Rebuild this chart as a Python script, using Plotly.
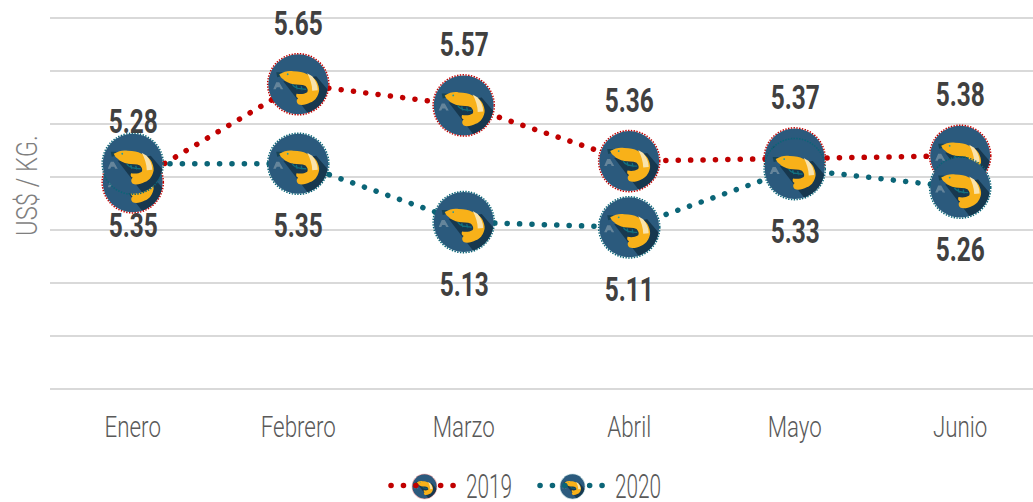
import base64
import plotly.graph_objects as go

months = ["Enero", "Febrero", "Marzo", "Abril", "Mayo", "Junio"]
values_2019 = [5.28, 5.65, 5.57, 5.36, 5.37, 5.38]
values_2020 = [5.35, 5.35, 5.13, 5.11, 5.33, 5.26]
RED = "#c00000"
TEAL = "#0b6577"
FONT = "Roboto"
positions = list(range(len(months)))
PX_X = 165.5
PX_Y = 265.0
TOP = 14
BOTTOM = 393
LEFT = 50


def icon(color):
    svg = f'''<svg xmlns="http://www.w3.org/2000/svg" viewBox="0 0 64 64" width="256" height="256">
<defs><clipPath id="c"><circle cx="32" cy="32" r="30"/></clipPath></defs>
<circle cx="32" cy="32" r="30" fill="#2b5a7d"/>
<g clip-path="url(#c)">
<path d="M17 29 L44 64 L72 64 L62 38 L50 24 Z" fill="#17384f"/>
<path d="M10 30 L13 30 L17 37 L14.5 37 L13.5 35 L10.5 35 L9.5 37 L7 37 Z" fill="#7f97a8" opacity="0.7"/>
<path d="M10 20 L16 20 L15 24 L11 25 Z" fill="#174458"/>
<path d="M13 22 C18 19 23 18 27 19 C33 19 37 20 40.3 21.7 C46 24 50 27 51.3 31 C53 35 53.5 38 52.3 41 C51 45 48.5 49 44 50.3 C40 52.5 35 53.5 32 52 C30 50.5 30 47 32 46 C30 45.5 29.5 43.5 30.3 41.5 C34 42 38 42 41 40 C42 38 41.5 36 39.3 33.7 C36 32 31 32.5 27 32 C23 31 19 29.5 17 27 C15 26 14 24 13 22 Z" fill="#f8b119"/>
<path d="M41 21 L46 24 C49.5 28 51.5 33 51.5 38 L46 38.5 C46 33 44 26.5 41 21 Z" fill="#f9e3ac"/>
<path d="M26 32 C28 36 33 37 40 37 M30 33 L31 37 M35 34 L36 38" stroke="#12707f" stroke-width="1.3" fill="none"/>
<circle cx="21.5" cy="22" r="0.9" fill="#1c9aa5"/>
</g>
<circle cx="32" cy="32" r="30.6" fill="none" stroke="{color}" stroke-width="1.5" stroke-dasharray="1.4 1.4"/>
</svg>'''
    return "data:image/svg+xml;base64," + base64.b64encode(svg.encode()).decode()


fig = go.Figure()
for name, vals, col in [("2019", values_2019, RED), ("2020", values_2020, TEAL)]:
    fig.add_trace(go.Scatter(
        x=positions, y=vals, name=name, mode="lines",
        line=dict(color=col, width=5.5, dash="0.1px,12.3px"),
    ))

images = []
for vals, col in [(values_2019, RED), (values_2020, TEAL)]:
    src = icon(col)
    for x, v in zip(positions, vals):
        images.append(dict(source=src, xref="x", yref="y", x=x, y=v, sizex=64 / PX_X, sizey=64 / PX_Y,
                           xanchor="center", yanchor="middle", sizing="stretch", layer="above"))
for px, col in [(424.5, RED), (572.5, TEAL)]:
    images.append(dict(source=icon(col), xref="paper", yref="paper", x=(px - LEFT) / 983,
                       y=(BOTTOM - 486.5) / (BOTTOM - TOP), sizex=26 / 983, sizey=26 / (BOTTOM - TOP),
                       xanchor="center", yanchor="middle", sizing="stretch", layer="above"))

annotations = []
for vals, shift in [(values_2019, 61), (values_2020, -62)]:
    for x, v in zip(positions, vals):
        annotations.append(dict(x=x, y=v, xref="x", yref="y", text=f"{v:.2f}", showarrow=False,
                                yshift=shift, font=dict(family=FONT, size=33, color="#404040", weight=700),
                                xanchor="center", yanchor="middle"))
annotations.append(dict(x=(27 - LEFT) / 983, y=(BOTTOM - 186) / (BOTTOM - TOP), xref="paper", yref="paper",
                        text="US$ / KG.", textangle=-90, showarrow=False,
                        font=dict(family=FONT, size=29, color="#7f7f7f", weight=300),
                        xanchor="center", yanchor="middle"))

fig.update_layout(
    width=1033, height=502,
    margin=dict(l=LEFT, r=0, t=TOP, b=502 - BOTTOM),
    paper_bgcolor="white", plot_bgcolor="white",
    showlegend=True,
    legend=dict(orientation="h", xref="container", yref="container", x=535 / 1033, xanchor="center",
                y=1 - 485.5 / 502, yanchor="middle", itemwidth=70, entrywidth=64, entrywidthmode="pixels",
                font=dict(family=FONT, size=33, color="#595959", weight=300), bgcolor="rgba(0,0,0,0)"),
    xaxis=dict(range=[-0.5, 5.44], tickmode="array", tickvals=positions, ticktext=months, showgrid=False,
               zeroline=False, showline=False, ticks="", automargin=False, ticklabelstandoff=14,
               tickfont=dict(family=FONT, size=29, color="#595959", weight=300)),
    yaxis=dict(range=[4.5 - 4 / PX_Y, 5.9 + 4 / PX_Y], tickmode="linear", dtick=0.2, tick0=4.5,
               gridcolor="#d9d9d9", gridwidth=2, zeroline=False, automargin=False,
               showline=False, showticklabels=False, ticks=""),
    images=images, annotations=annotations,
)

post = """
document.body.style.margin='0';
document.querySelectorAll('.js-line').forEach(e=>e.style.strokeLinecap='round');
document.querySelectorAll('.legend .js-line').forEach(e=>{e.style.strokeDasharray='0.1,12.3,0.1,12.3,0.1,24.7,0.1,12.3,0.1,12.3';});
document.querySelectorAll('.legend [clip-path]').forEach(e=>e.removeAttribute('clip-path'));
function squeeze(sel,f,test){document.querySelectorAll(sel).forEach(t=>{
  if(test&&!test(t.textContent))return;
  var w=t.getComputedTextLength();
  t.setAttribute('lengthAdjust','spacingAndGlyphs');t.setAttribute('textLength',w*f);});}
squeeze('.xtick text',0.77);
squeeze('.legendtext',0.63);
squeeze('.annotation-text',0.74,s=>/^[0-9.]+$/.test(s));
squeeze('.annotation-text',0.82,s=>!/^[0-9.]+$/.test(s));
"""
fig.write_html("out.html", post_script=post, config={"displayModeBar": False})
